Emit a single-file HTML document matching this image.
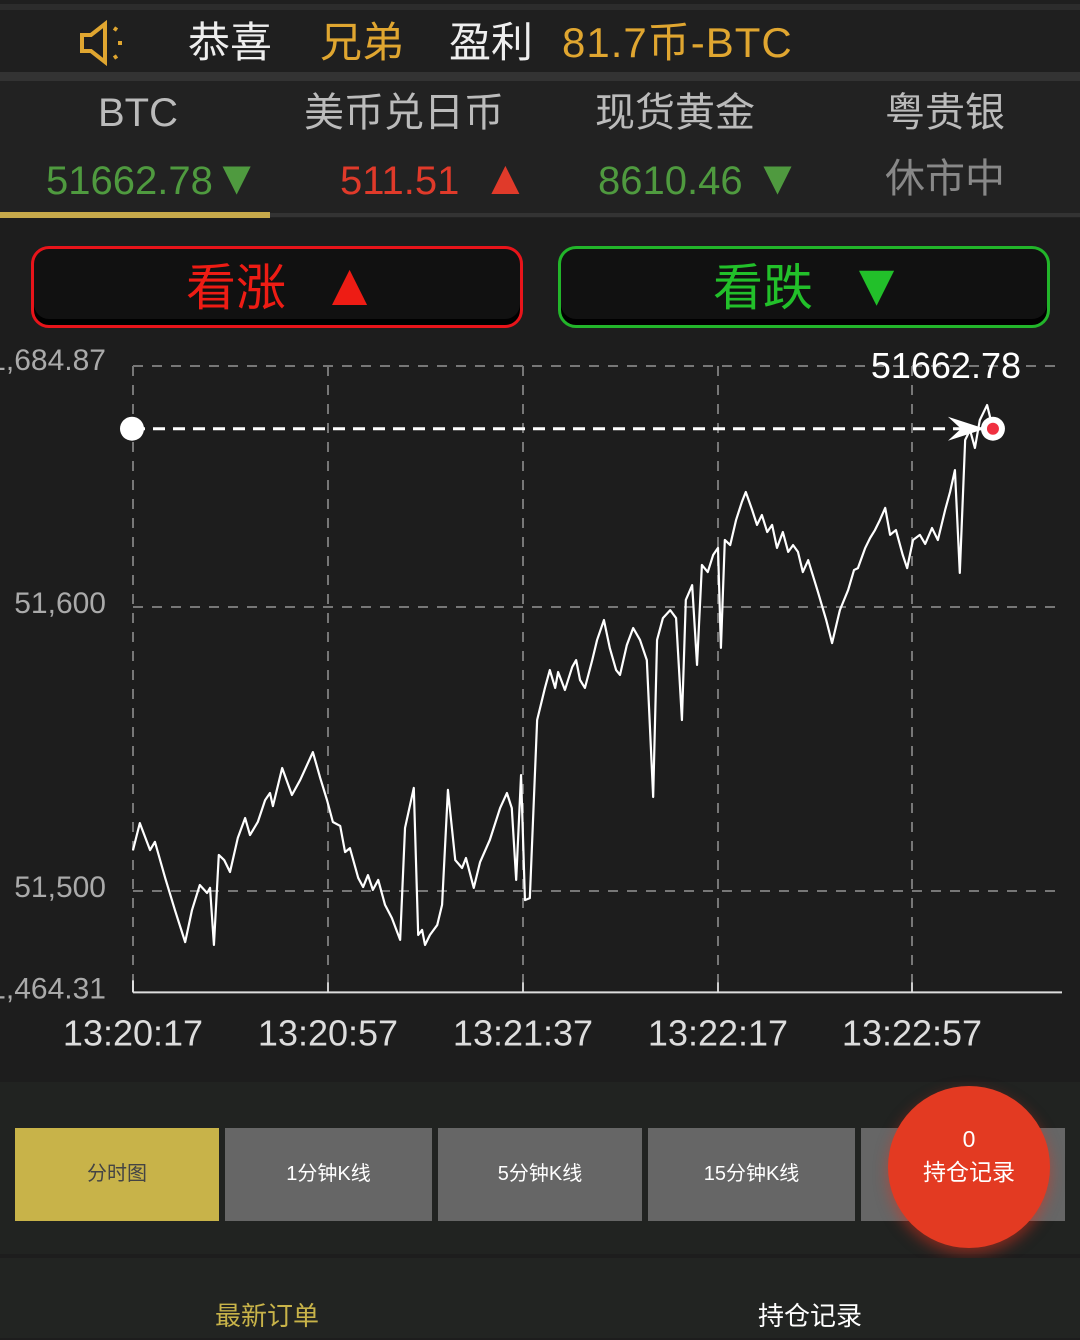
<!DOCTYPE html>
<html><head><meta charset="utf-8">
<style>
html,body{margin:0;padding:0;width:1080px;height:1338px;overflow:hidden;background:#1d1d1d;font-family:"Liberation Sans","Noto Sans CJK SC",sans-serif;}
.abs{position:absolute;}
.t{position:absolute;white-space:nowrap;line-height:48px;}
</style></head><body>
<div class="abs" style="left:0;top:0;width:1080px;height:80px;background:#1f1f1f;">
  <div class="abs" style="left:0;top:4px;width:1080px;height:6px;background:#2c2c2c"></div>
  <div class="abs" style="left:0;top:72px;width:1080px;height:9px;background:#333"></div>
  <svg class="abs" style="left:78px;top:20px" width="50" height="46" viewBox="0 0 50 46"><path d="M4 15h9l14-11v38L13 31H4z" fill="none" stroke="#e0a630" stroke-width="4"/><path d="M36 8l3 2M40 23h4M36 38l3-2" stroke="#e0a630" stroke-width="4"/></svg>
  <div class="t" style="left:188px;top:19px;font-size:42px;color:#eee;">恭喜</div>
  <div class="t" style="left:320px;top:19px;font-size:42px;color:#e0a630;">兄弟</div>
  <div class="t" style="left:449px;top:19px;font-size:42px;color:#eee;">盈利</div>
  <div class="t" style="left:562px;top:19px;font-size:42px;color:#e0a630;letter-spacing:1px;">81.7币-BTC</div>
</div>
<div class="abs" style="left:0;top:81px;width:1080px;height:137px;background:#222;">
  <div class="t" style="left:98px;top:8px;font-size:40px;color:#bbb">BTC</div>
  <div class="t" style="left:304px;top:8px;font-size:40px;color:#bbb">美币兑日币</div>
  <div class="t" style="left:595px;top:8px;font-size:40px;color:#bbb">现货黄金</div>
  <div class="t" style="left:885px;top:8px;font-size:40px;color:#bbb">粤贵银</div>
  <div class="t" style="left:46px;top:74px;font-size:40px;color:#4f9a3f">51662.78<span style="font-size:48px;color:#4f9a3f">▼</span></div>
  <div class="t" style="left:340px;top:74px;font-size:40px;color:#e03a2a">511.51 &nbsp;<span style="font-size:48px">▲</span></div>
  <div class="t" style="left:598px;top:74px;font-size:40px;color:#4f9a3f">8610.46 <span style="font-size:48px">▼</span></div>
  <div class="t" style="left:885px;top:74px;font-size:40px;color:#888">休市中</div>
  <div class="abs" style="left:0;top:131px;width:270px;height:6px;background:#c7a94b"></div>
  <div class="abs" style="left:270px;top:132px;width:810px;height:4px;background:#333"></div>
</div>
<div class="abs" style="left:31px;top:246px;width:486px;height:76px;border:3px solid #e8141a;border-radius:18px;background:#111;box-shadow:inset 0 -6px 0 #000;">
  <div class="t" style="left:152px;top:12px;font-size:50px;color:#ee1c14">看涨 <span style="margin-left:20px;font-size:60px">▲</span></div></div>
<div class="abs" style="left:558px;top:246px;width:486px;height:76px;border:3px solid #22b52a;border-radius:18px;background:#111;box-shadow:inset 0 -6px 0 #000;">
  <div class="t" style="left:152px;top:12px;font-size:50px;color:#22c02a">看跌 <span style="margin-left:20px;font-size:60px">▼</span></div></div>

<svg id="chart" class="abs" style="left:0;top:330px" width="1080" height="750"></svg>

<div class="abs" style="left:0;top:1082px;width:1080px;height:172px;background:#212321;">
  <div class="abs" style="left:15px;top:46px;width:204px;height:93px;background:#c8b349;color:#444;font-size:20px;text-align:center;line-height:93px;">分时图</div>
  <div class="abs" style="left:225px;top:46px;width:207px;height:93px;background:#666;color:#fff;font-size:20px;text-align:center;line-height:93px;">1分钟K线</div>
  <div class="abs" style="left:438px;top:46px;width:204px;height:93px;background:#666;color:#fff;font-size:20px;text-align:center;line-height:93px;">5分钟K线</div>
  <div class="abs" style="left:648px;top:46px;width:207px;height:93px;background:#666;color:#fff;font-size:20px;text-align:center;line-height:93px;">15分钟K线</div>
  <div class="abs" style="left:861px;top:46px;width:204px;height:93px;background:#666;"></div>
  <div class="abs" style="left:888px;top:4px;width:162px;height:162px;border-radius:50%;background:#e33a22;box-shadow:0 6px 14px rgba(230,50,30,0.5);color:#fff;text-align:center;font-size:23px;">
    <div style="margin-top:40px">0</div><div>持仓记录</div></div>
</div>
<div class="abs" style="left:0;top:1258px;width:1080px;height:80px;background:#222422;">
  <div class="t" style="left:215px;top:34px;font-size:26px;color:#c8b349">最新订单</div>
  <div class="t" style="left:758px;top:34px;font-size:26px;color:#fff">持仓记录</div>
</div>

<script>
const times=[0,1.4,3.5,4.5,6.6,8.6,10.7,12.1,13.7,15.2,15.8,16.6,17.6,18.7,19.9,21.5,23.0,24.0,25.6,27.1,28.1,28.7,30.6,32.6,34.3,36.9,38.4,39.8,41.0,42.5,43.5,44.5,46.2,47.2,48.2,49.2,50.3,51.7,53.1,54.8,55.8,57.6,58.5,59.3,59.9,60.9,62.4,63.4,64.6,66.1,67.5,68.3,69.9,71.2,73.2,75.3,76.7,77.7,78.6,79.6,80.4,81.4,82.9,84.5,85.5,86.6,87.2,88.6,90.1,90.9,91.7,92.7,94.2,95.2,96.6,97.8,99.1,99.9,101.3,102.6,104.0,105.4,106.7,107.5,108.7,110.2,111.4,112.6,113.4,114.7,115.7,116.7,117.9,119.0,120.0,120.6,121.4,122.5,123.7,124.9,125.7,127.0,128.0,129.0,130.1,131.1,132.1,133.3,134.4,135.4,136.4,137.4,138.5,140.5,142.2,143.4,145.0,146.7,147.9,148.7,150.2,151.2,152.2,153.2,154.3,155.3,156.5,157.9,158.8,160.0,161.4,162.5,163.9,165.1,166.6,167.6,168.6,169.6,170.7,171.7,172.7,173.7,175.2,176.4];
const prices=[51514.4,51523.9,51514.4,51517.3,51504.6,51493.3,51482.0,51493.3,51502.1,51499.3,51501.1,51481.0,51512.7,51510.9,51506.7,51518.7,51525.7,51519.7,51524.3,51532.0,51534.5,51529.9,51543.3,51533.8,51539.1,51548.9,51539.8,51532.0,51524.3,51522.9,51513.7,51515.1,51504.6,51501.4,51505.6,51500.4,51503.9,51495.1,51490.5,51482.8,51522.2,51536.3,51484.5,51486.3,51481.0,51484.5,51488.0,51495.1,51535.6,51510.9,51508.1,51511.6,51501.1,51510.2,51518.0,51529.2,51534.5,51529.2,51503.9,51540.8,51496.8,51497.5,51560.2,51571.5,51577.8,51571.5,51577.1,51570.8,51578.9,51581.3,51574.3,51571.5,51581.3,51588.4,51595.4,51585.6,51577.8,51576.1,51586.6,51592.6,51588.4,51581.3,51533.1,51588.4,51596.1,51598.9,51596.1,51560.2,51602.5,51607.7,51579.6,51614.8,51612.3,51618.3,51620.8,51585.6,51623.6,51621.8,51630.6,51637.0,51640.5,51634.2,51628.9,51632.4,51626.4,51628.9,51620.8,51626.4,51619.4,51621.8,51619.4,51612.3,51616.5,51605.3,51595.4,51587.3,51598.9,51606.0,51613.0,51613.7,51620.8,51624.3,51627.1,51630.6,51634.9,51625.4,51627.1,51618.3,51613.7,51623.6,51625.4,51622.2,51627.8,51623.6,51634.2,51640.5,51648.2,51612.0,51658.8,51662.3,51656.0,51665.8,51671.1,51662.78];
const yTicks=[51684.87,51600,51500,51464.31];
const yTickLabels=["1,684.87","51,600","51,500","1,464.31"];
const xTicks=[0,40,80,120,160];
const xTickLabels=["13:20:17","13:20:57","13:21:37","13:22:17","13:22:57"];
const lastPrice=51662.78;
const lastPriceLabel="51662.78";

const OY=330;
const sy=v=>607-OY-(v-51600)*2.84;
const sx=t=>133+t*4.875;
const svg=document.getElementById('chart');
const NS='http://www.w3.org/2000/svg';
function mk(tag,attrs){const e=document.createElementNS(NS,tag);for(const k in attrs)e.setAttribute(k,attrs[k]);svg.appendChild(e);return e;}
const xR=1062, yBot=sy(51464.31);
yTicks.forEach((v,i)=>{
  if(i<3){const g=mk('line',{x1:133,x2:xR,y1:sy(v),y2:sy(v),stroke:'#777','stroke-width':2,'stroke-dasharray':'10 9'});
  
  }
  const t=mk('text',{x:106,y:sy(v)+(i==0?4:6),fill:'#aaa','font-size':30,'text-anchor':'end','font-family':'Liberation Sans,sans-serif'});
  t.textContent=yTickLabels[i];
  
  
});
xTicks.forEach((v,i)=>{
  const x=sx(v)-(i==4?1:0);
  const g=mk('line',{x1:x,x2:x,y1:sy(51684.87),y2:yBot,stroke:'#777','stroke-width':2,'stroke-dasharray':'10 9'});
  
  
  const tk=mk('line',{x1:x,x2:x,y1:yBot-10,y2:yBot,stroke:'#ccc','stroke-width':2});
  
  
  const t=mk('text',{x:x,y:yBot+53,fill:'#ddd','font-size':36,'text-anchor':'middle','font-family':'Liberation Sans,sans-serif'});
  t.textContent=xTickLabels[i];
  
  
});
const ax=mk('line',{x1:133,x2:xR,y1:yBot,y2:yBot,stroke:'#ddd','stroke-width':2});


const ay=mk('line',{x1:133,x2:133,y1:yBot-12,y2:yBot,stroke:'#ddd','stroke-width':2});


const pl=mk('polyline',{points:times.map((t,i)=>sx(t)+','+sy(prices[i])).join(' '),fill:'none',stroke:'#fff','stroke-width':2.2,'stroke-linejoin':'round'});


const lx=sx(times[times.length-1]);
const dl=mk('line',{x1:133,x2:lx-10,y1:sy(lastPrice),y2:sy(lastPrice),stroke:'#fff','stroke-width':3,'stroke-dasharray':'12 8'});


const sd=mk('circle',{cx:132,cy:sy(lastPrice),r:12,fill:'#fff'});


const ar=mk('polygon',{points:`${lx-45},${sy(lastPrice)-12} ${lx-8},${sy(lastPrice)} ${lx-45},${sy(lastPrice)+12} ${lx-32},${sy(lastPrice)}`,fill:'#fff'});


const ed=mk('circle',{cx:lx,cy:sy(lastPrice),r:12,fill:'#fff'});


const ed2=mk('circle',{cx:lx,cy:sy(lastPrice),r:6,fill:'#f03040'});


const lt=mk('text',{x:1021,y:sy(51684.87)+12,fill:'#fff','font-size':36,'text-anchor':'end','font-family':'Liberation Sans,sans-serif'});
lt.textContent=lastPriceLabel;


</script>
</body></html>
